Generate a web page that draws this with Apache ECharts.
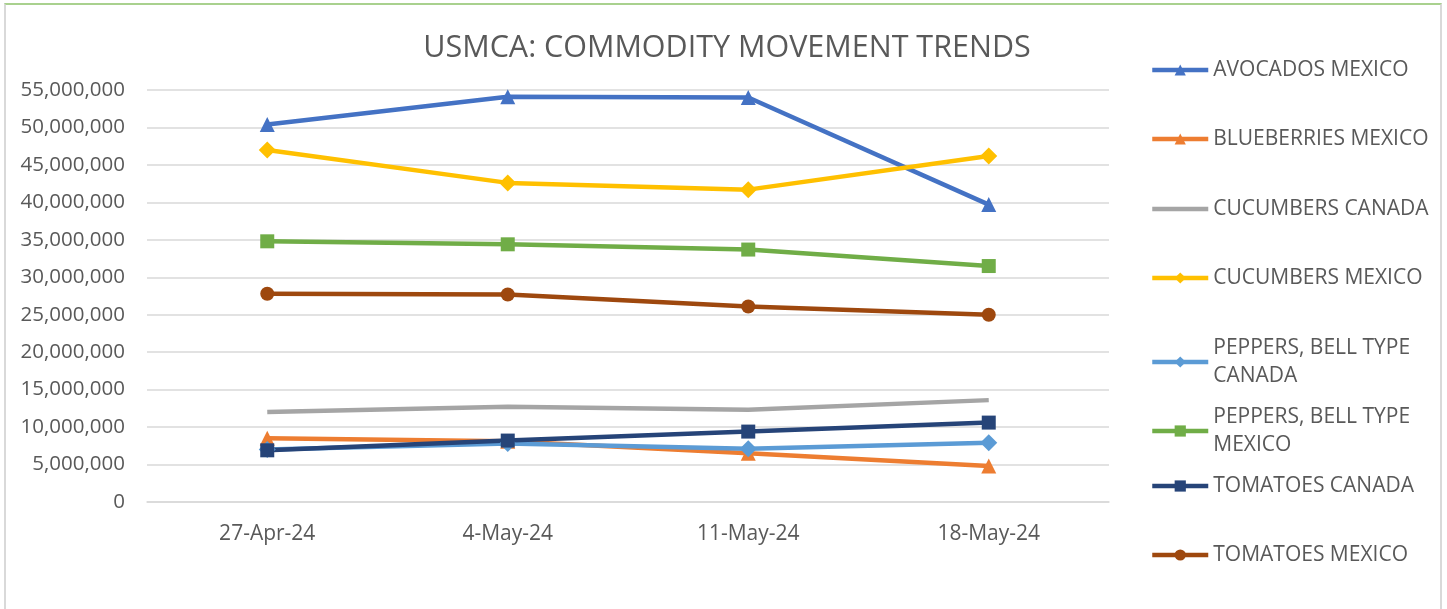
<!DOCTYPE html>
<html>
<head>
<meta charset="utf-8">
<title>USMCA: Commodity Movement Trends</title>
<script src="https://cdn.jsdelivr.net/npm/echarts@6/dist/echarts.min.js"></script>
<style>
  html, body { margin: 0; padding: 0; background: #fff; }
  .frame {
    position: absolute;
    left: 4px; top: 3px;
    width: 1434px; height: 606px;
    border-top: 2px solid #a9d18e;
    border-left: 2px solid #d9d9d9;
    border-right: 2px solid #d9d9d9;
  }
  #chart { width: 1447px; height: 609px; position: absolute; left: 0; top: 0; }
</style>
</head>
<body>
<div class="frame"></div>
<div id="chart"></div>
<script>
// weeks
const weeks = ['27-Apr-24', '4-May-24', '11-May-24', '18-May-24']

// volumes per commodity / origin
const avocadosMexico = [50400000, 54100000, 54000000, 39700000]
const blueberriesMexico = [8500000, 8100000, 6500000, 4800000]
const cucumbersCanada = [12000000, 12700000, 12300000, 13600000]
const cucumbersMexico = [47000000, 42600000, 41700000, 46200000]
const peppersCanada = [7000000, 7800000, 7100000, 7900000]
const peppersMexico = [34800000, 34400000, 33700000, 31500000]
const tomatoesCanada = [6900000, 8200000, 9400000, 10600000]
const tomatoesMexico = [27800000, 27700000, 26100000, 25000000]

const seriesNames = [
  'AVOCADOS MEXICO',
  'BLUEBERRIES MEXICO',
  'CUCUMBERS CANADA',
  'CUCUMBERS MEXICO',
  'PEPPERS, BELL TYPE CANADA',
  'PEPPERS, BELL TYPE MEXICO',
  'TOMATOES CANADA',
  'TOMATOES MEXICO'
]

const textColor = '#595959'
const fontFamily = "'Open Sans', 'Noto Sans', sans-serif"

const chart = echarts.init(document.getElementById('chart'))

// one legend block per series, so spacing follows the excel layout
const legendTops = [56, 125, 195, 264, 334, 403, 472, 541]
const legends = seriesNames.map((name, i) => ({
  // cucumbers canada has no marker, hide the legend symbol but keep its line
  data: [name === 'CUCUMBERS CANADA'
    ? { name: name, itemStyle: { color: 'rgba(0,0,0,0)', borderColor: 'rgba(0,0,0,0)' } }
    : name],
  orient: 'vertical',
  left: 1150,
  top: legendTops[i],
  padding: 0,
  itemWidth: 56,
  itemHeight: 14,
  itemGap: 0,
  lineStyle: { width: 4.5 },
  formatter: n => n.replace('BELL TYPE ', 'BELL TYPE\n'),
  textStyle: {
    color: textColor,
    fontSize: 21,
    fontFamily: fontFamily,
    lineHeight: 28
  }
}))

function lineSeries (name, data, color, symbol, size) {
  return {
    name: name,
    type: 'line',
    data: data,
    symbol: symbol,
    symbolSize: size,
    showSymbol: symbol !== 'none',
    lineStyle: { color: color, width: 4.5 },
    itemStyle: { color: color },
    emphasis: { disabled: true }
  }
}

const option = {
  animation: false,
  title: {
    text: 'USMCA: COMMODITY MOVEMENT TRENDS',
    left: 722,
    textAlign: 'center',
    top: 28,
    textStyle: {
      color: textColor,
      fontSize: 30.5,
      fontWeight: 'normal',
      fontFamily: fontFamily
    }
  },
  legend: legends,
  grid: {
    left: 147,
    right: 338,
    top: 90,
    bottom: 107
  },
  xAxis: {
    type: 'category',
    data: weeks,
    boundaryGap: true,
    axisLine: { lineStyle: { color: '#d9d9d9', width: 1.5 } },
    axisTick: { show: false },
    axisLabel: {
      color: textColor,
      fontSize: 21,
      fontFamily: fontFamily,
      margin: 22
    }
  },
  yAxis: {
    type: 'value',
    min: 0,
    max: 55000000,
    interval: 5000000,
    axisLine: { show: false },
    axisTick: { show: false },
    splitLine: { lineStyle: { color: '#d9d9d9', width: 1.5 } },
    axisLabel: {
      color: textColor,
      fontSize: 20.5,
      fontFamily: fontFamily,
      margin: 22,
      formatter: v => v.toLocaleString('en-US')
    }
  },
  series: [
    lineSeries(seriesNames[0], avocadosMexico, '#4472c4', 'triangle', 15),
    lineSeries(seriesNames[1], blueberriesMexico, '#ed7d31', 'triangle', 15),
    lineSeries(seriesNames[2], cucumbersCanada, '#a5a5a5', 'none', 0),
    lineSeries(seriesNames[3], cucumbersMexico, '#ffc000', 'diamond', 17),
    lineSeries(seriesNames[4], peppersCanada, '#5b9bd5', 'diamond', 17),
    lineSeries(seriesNames[5], peppersMexico, '#70ad47', 'rect', 14),
    lineSeries(seriesNames[6], tomatoesCanada, '#264478', 'rect', 14),
    lineSeries(seriesNames[7], tomatoesMexico, '#9e480e', 'circle', 14)
  ]
}

chart.setOption(option)
</script>
</body>
</html>
